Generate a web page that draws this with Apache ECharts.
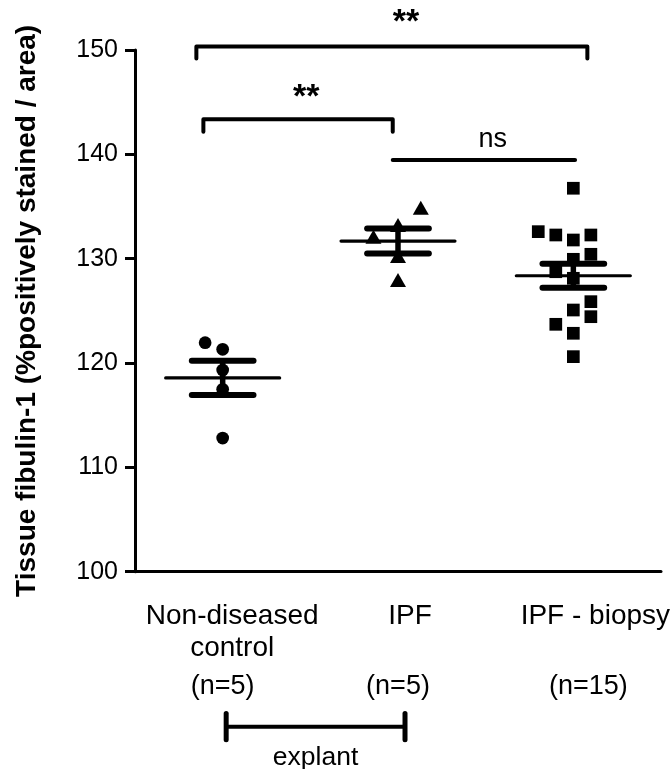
<!DOCTYPE html>
<html><head><meta charset="utf-8">
<script src="https://cdn.jsdelivr.net/npm/echarts@6/dist/echarts.min.js"></script>
<style>html,body{margin:0;padding:0;background:#fff}#chart{width:672px;height:769px}</style>
</head><body><div id="chart"></div>
<script>
// Groups and sample sizes
const groupNames = ['Non-diseased\ncontrol', 'IPF', 'IPF - biopsy'];
const groupN = ['(n=5)', '(n=5)', '(n=15)'];
const yTicks = [100, 110, 120, 130, 140, 150];

// Individual measurements (% positively stained / area)
const controlValues = [121.95, 121.31, 119.33, 117.48, 112.81];
const ipfValues = [134.89, 133.23, 132.11, 130.26, 127.96];
const biopsyValues = [136.75, 132.59, 132.27, 131.79, 132.27, 130.42, 129.94, 128.75,
                      128.12, 125.88, 125.08, 124.44, 123.71, 122.85, 120.61];

// Horizontal spread of overlapping points (in category units)
const controlJitter = [-0.1, 0, 0, 0, 0];
const ipfJitter = [0.13, 0, -0.14, 0, 0];
const biopsyJitter = [0, -0.2, -0.1, 0, 0.1, 0.1, 0, -0.1, 0, 0.1, 0, 0.1, -0.1, 0, 0];

// Pairwise comparisons
const comparisons = [
  { from: 0, to: 2, label: '**' },
  { from: 0, to: 1, label: '**' },
  { from: 1, to: 2, label: 'ns' }
];
const explantGroups = [0, 1];
const explantLabel = 'explant';

const FONT = '"Liberation Sans", Arial, Helvetica, sans-serif';

function meanSem(arr) {
  const n = arr.length;
  const m = arr.reduce((a, b) => a + b, 0) / n;
  const sd = Math.sqrt(arr.reduce((a, b) => a + (b - m) * (b - m), 0) / (n - 1));
  return [m, sd / Math.sqrt(n)];
}
const allGroups = [controlValues, ipfValues, biopsyValues];
const summary = allGroups.map((g, i) => { const [m, s] = meanSem(g); return [i, m, s]; });

function pts(values, jitter, gi) { return values.map((v, i) => [gi + jitter[i], v]); }

// Bracket geometry for each comparison (x ends, bar level, drop, label anchor)
const bracketLayout = [
  { x0: -0.15, x1: 2.08, y: 150.33, drop: 1.15, tx: 1.045, ty: 152.6, ends: true },
  { x0: -0.11, x1: 0.97, y: 143.36, drop: 1.19, tx: 0.477, ty: 145.4, ends: true },
  { x0: 0.97, x1: 2.01, y: 139.46, drop: 0, tx: 1.54, ty: 141.4, ends: false }
];

const chart = echarts.init(document.getElementById('chart'));
const black = '#000';

const nameStyle = (pl) => ({ fontSize: 28, lineHeight: 31.6, fontFamily: FONT, color: black, padding: [0, 0, 0, pl] });
const nStyle = (pl, pr) => ({ fontSize: 27, lineHeight: 45, fontFamily: FONT, color: black, padding: [0, pr, 0, pl] });

chart.setOption({
  animation: false,
  backgroundColor: '#fff',
  grid: { left: 135, right: 11, top: 50, bottom: 197.3, containLabel: false, outerBoundsMode: 'none' },
  xAxis: [{
    type: 'category',
    data: groupNames,
    boundaryGap: true,
    axisLine: { onZero: false, lineStyle: { color: black, width: 3 } },
    axisTick: { alignWithLabel: true, length: 11, lineStyle: { color: black, width: 3 } },
    axisLabel: {
      margin: 29,
      interval: 0,
      fontFamily: FONT,
      color: black,
      formatter: (v, i) => {
        const lines = v.split('\n').map(s => '{a' + i + '|' + s + '}');
        if (lines.length < 2) lines.push('{a' + i + '| }');
        return lines.join('\n') + '\n{n' + i + '|' + groupN[i] + '}';
      },
      rich: {
        a0: nameStyle(19), a1: nameStyle(24), a2: nameStyle(44),
        n0: nStyle(0, 0), n1: nStyle(0, 0), n2: nStyle(30, 0)
      }
    },
    splitLine: { show: false }
  }, {
    type: 'value', min: -0.5, max: 2.5, show: false
  }],
  yAxis: {
    type: 'value', min: yTicks[0], max: yTicks[yTicks.length - 1], interval: 10,
    name: 'Tissue fibulin-1 (%positively stained / area)',
    nameLocation: 'middle', nameGap: 94,
    nameTextStyle: { fontFamily: FONT, fontWeight: 'bold', fontSize: 28, color: black },
    axisLine: { show: true, onZero: false, lineStyle: { color: black, width: 3 } },
    axisTick: { show: true, length: 10, lineStyle: { color: black, width: 3 } },
    axisLabel: { margin: 17, fontFamily: FONT, fontSize: 25, color: black },
    splitLine: { show: false }
  },
  series: [
    {
      type: 'custom', xAxisIndex: 1, data: summary, z: 2,
      renderItem: (params, api) => {
        const gi = api.value(0), m = api.value(1), s = api.value(2);
        const L = api.coord([gi - 0.325, m]), R = api.coord([gi + 0.325, m]);
        const hi = api.coord([gi, m + s]), lo = api.coord([gi, m - s]);
        const cl = api.coord([gi - 0.176, m])[0], cr = api.coord([gi + 0.176, m])[0];
        return { type: 'group', children: [
          { type: 'line', shape: { x1: L[0], y1: L[1], x2: R[0], y2: R[1] }, style: { stroke: black, lineWidth: 3.2, lineCap: 'round' } },
          { type: 'line', shape: { x1: hi[0], y1: hi[1], x2: lo[0], y2: lo[1] }, style: { stroke: black, lineWidth: 5.5 } },
          { type: 'line', shape: { x1: cl, y1: hi[1], x2: cr, y2: hi[1] }, style: { stroke: black, lineWidth: 6, lineCap: 'round' } },
          { type: 'line', shape: { x1: cl, y1: lo[1], x2: cr, y2: lo[1] }, style: { stroke: black, lineWidth: 6, lineCap: 'round' } }
        ] };
      }
    },
    { type: 'scatter', xAxisIndex: 1, data: pts(controlValues, controlJitter, 0), symbol: 'circle', symbolSize: 12.7, itemStyle: { color: black, opacity: 1 }, z: 3 },
    { type: 'scatter', xAxisIndex: 1, data: pts(ipfValues, ipfJitter, 1), symbol: 'triangle', symbolSize: [16, 14], itemStyle: { color: black, opacity: 1 }, z: 3 },
    { type: 'scatter', xAxisIndex: 1, data: pts(biopsyValues, biopsyJitter, 2), symbol: 'rect', symbolSize: 12.7, itemStyle: { color: black, opacity: 1 }, z: 3 },
    {
      type: 'custom', xAxisIndex: 1, clip: false, z: 4,
      data: comparisons.map((c, i) => [i]),
      renderItem: (params, api) => {
        const b = bracketLayout[api.value(0)];
        const c = comparisons[api.value(0)];
        const p0 = api.coord([b.x0, b.y]), p1 = api.coord([b.x1, b.y]);
        const d = api.coord([b.x0, b.y - b.drop])[1];
        const t = api.coord([b.tx, b.ty]);
        const pts2 = b.ends ? [[p0[0], d], p0, p1, [p1[0], d]] : [p0, p1];
        const star = c.label === '**';
        return { type: 'group', children: [
          { type: 'polyline', shape: { points: pts2 }, style: { stroke: black, fill: null, lineWidth: 4, lineCap: 'round', lineJoin: 'round' } },
          { type: 'text', x: t[0], y: t[1], style: { text: c.label, fill: black, fontFamily: FONT, fontSize: star ? 34 : 27, fontWeight: star ? 'bold' : 'normal', align: 'center', verticalAlign: 'middle' } }
        ] };
      }
    },
    {
      type: 'custom', xAxisIndex: 1, clip: false, z: 4,
      data: [[explantGroups[0], explantGroups[1]]],
      renderItem: (params, api) => {
        const a = api.value(0), bIdx = api.value(1);
        const l = api.coord([a + 0.02, 85.14]), r = api.coord([bIdx + 0.04, 85.14]);
        const top = api.coord([a, 86.4])[1], bot = api.coord([a, 83.9])[1];
        const t = api.coord([(a + bIdx) / 2 + 0.03, 82.2]);
        return { type: 'group', children: [
          { type: 'line', shape: { x1: l[0], y1: l[1], x2: r[0], y2: r[1] }, style: { stroke: black, lineWidth: 4 } },
          { type: 'line', shape: { x1: l[0], y1: top, x2: l[0], y2: bot }, style: { stroke: black, lineWidth: 5, lineCap: 'round' } },
          { type: 'line', shape: { x1: r[0], y1: top, x2: r[0], y2: bot }, style: { stroke: black, lineWidth: 5, lineCap: 'round' } },
          { type: 'text', x: t[0], y: t[1], style: { text: explantLabel, fill: black, fontFamily: FONT, fontSize: 26.5, align: 'center', verticalAlign: 'middle' } }
        ] };
      }
    }
  ]
});
</script>
</body></html>
